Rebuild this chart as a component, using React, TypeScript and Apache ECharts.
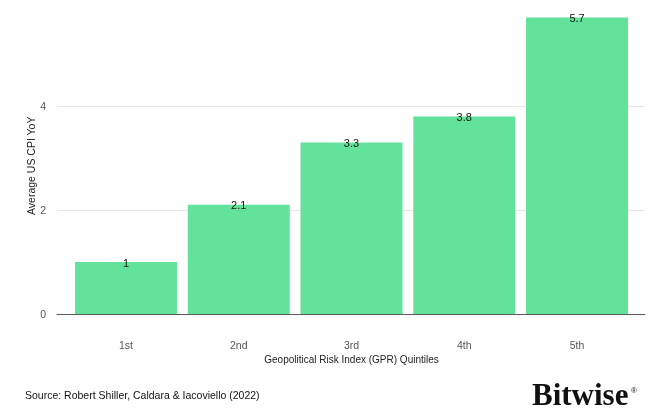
import * as React from "react";
import * as echarts from "echarts";

const quintiles = ["1st", "2nd", "3rd", "4th", "5th"];
const avgCpiYoY = [1, 2.1, 3.3, 3.8, 5.7];
const yMax = 5.7;
const yInterval = 2;

const sourceNote = "Source: Robert Shiller, Caldara & Iacoviello (2022)";
const brand = "Bitwise";

const barColor = "#62e29a";
const axisGray = "#5a5a5a";
const fontFamily = "'Liberation Sans', Arial, sans-serif";

export default function App() {
  const chartRef = React.useRef<HTMLDivElement | null>(null);

  React.useEffect(() => {
    if (!chartRef.current) return;
    const chart = echarts.init(chartRef.current, undefined, { renderer: "svg" });

    chart.setOption({
      animation: false,
      textStyle: { fontFamily },
      grid: [
        // outer grid: gridlines and baseline run a little wider than the bars
        { left: 57, right: 26, top: 17.6, bottom: 100 },
        { left: 69.6, right: 37.6, top: 17.6, bottom: 100 },
      ],
      xAxis: [
        {
          type: "value",
          gridIndex: 0,
          min: 0,
          max: 1,
          axisLine: { show: true, lineStyle: { color: axisGray, width: 1 } },
          axisTick: { show: false },
          axisLabel: { show: false },
          splitLine: { show: false },
        },
        {
          type: "category",
          gridIndex: 1,
          data: quintiles,
          axisLine: { show: false },
          axisTick: { show: false },
          axisLabel: { color: "#555", fontSize: 10.5, margin: 25 },
          name: "Geopolitical Risk Index (GPR) Quintiles",
          nameLocation: "middle",
          nameGap: 40,
          nameMoveOverlap: false,
          nameTextStyle: { color: "#222", fontSize: 10 },
        },
      ],
      yAxis: [
        {
          type: "value",
          gridIndex: 0,
          min: 0,
          max: yMax,
          interval: yInterval,
          axisLine: { show: false },
          axisTick: { show: false },
          axisLabel: { color: "#555", fontSize: 10.5, margin: 11, showMaxLabel: false },
          splitLine: {
            show: true,
            showMinLine: false,
            showMaxLine: false,
            lineStyle: { color: "#e6e6e6", width: 1 },
          },
          name: "Average US CPI YoY",
          nameLocation: "middle",
          nameGap: 21,
          nameMoveOverlap: false,
          nameTextStyle: { color: "#222", fontSize: 10.5 },
        },
        {
          type: "value",
          gridIndex: 1,
          min: 0,
          max: yMax,
          interval: yInterval,
          show: false,
          splitLine: { show: false },
        },
      ],
      series: [
        {
          type: "bar",
          xAxisIndex: 1,
          yAxisIndex: 1,
          data: avgCpiYoY,
          barWidth: 102,
          itemStyle: { color: barColor },
          label: {
            show: true,
            position: "top",
            distance: -6,
            color: "#111",
            fontSize: 11,
          },
        },
      ],
      graphic: [
        {
          type: "text",
          left: 25,
          top: 389,
          style: { text: sourceNote, fill: "#111", fontSize: 10.5, fontFamily },
        },
        {
          type: "text",
          left: 532,
          top: 379,
          style: {
            text: brand,
            fill: "#111",
            fontSize: 31,
            fontWeight: "bold",
            fontFamily: "'Liberation Serif', 'DejaVu Serif', serif",
          },
        },
        {
          type: "text",
          left: 631,
          top: 386,
          style: { text: "®", fill: "#111", fontSize: 8, fontFamily },
        },
      ],
    });

    return () => {
      chart.dispose();
    };
  }, []);

  return (
    <div
      ref={chartRef}
      style={{ position: "fixed", left: 0, top: 0, width: 671, height: 414 }}
    />
  );
}
